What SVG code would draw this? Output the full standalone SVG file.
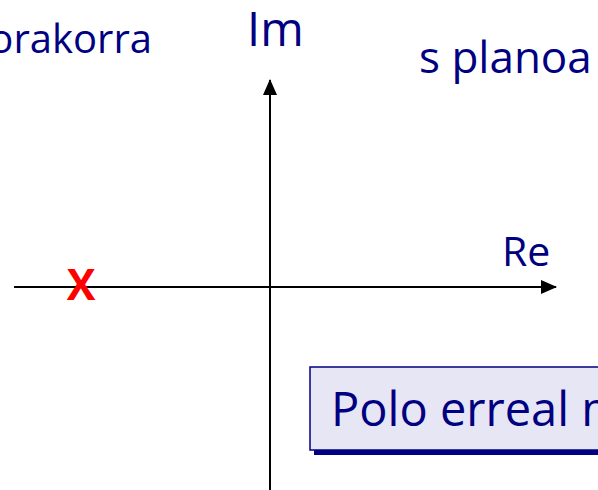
<svg xmlns="http://www.w3.org/2000/svg" width="598" height="490" viewBox="0 0 598 490">
  <style>
    .lbl { font-family: "Open Sans", "Liberation Sans", sans-serif; fill: #000080; }
    .axis { stroke: #000000; stroke-width: 2; fill: none; }
  </style>
  <defs>
    <marker id="arrow" viewBox="0 0 16 14" refX="15" refY="7" markerWidth="16" markerHeight="14" orient="auto" markerUnits="userSpaceOnUse">
      <path d="M0,0 L16,7 L0,14 Z" fill="#000000"/>
    </marker>
  </defs>
  <rect width="598" height="490" fill="#ffffff"/>
  <g id="connectors">
    <line class="axis" x1="14" y1="287" x2="556" y2="287" marker-end="url(#arrow)"/>
    <line class="axis" x1="270" y1="490" x2="270" y2="80" marker-end="url(#arrow)"/>
  </g>
  <g id="title-left">
    <text class="lbl" x="152" y="53" font-size="40" text-anchor="end">orakorra</text>
  </g>
  <g id="label-im">
    <text class="lbl" x="247" y="46" font-size="47">Im</text>
  </g>
  <g id="label-splane">
    <text class="lbl" x="419" y="73" font-size="44">s planoa</text>
  </g>
  <g id="label-re">
    <text class="lbl" x="502" y="266" font-size="41">Re</text>
  </g>
  <g id="pole">
    <text x="81" y="300" font-family="Open Sans, Liberation Sans, sans-serif" font-size="43" font-weight="bold" fill="#ff0000" text-anchor="middle">X</text>
  </g>
  <g id="note">
    <rect x="314" y="371" width="300" height="84" fill="#000080"/>
    <rect x="310" y="367" width="300" height="83" fill="#e6e6f5" stroke="#000080" stroke-width="1.5"/>
    <text class="lbl" x="331" y="426" font-size="47">Polo erreal m</text>
  </g>
</svg>
